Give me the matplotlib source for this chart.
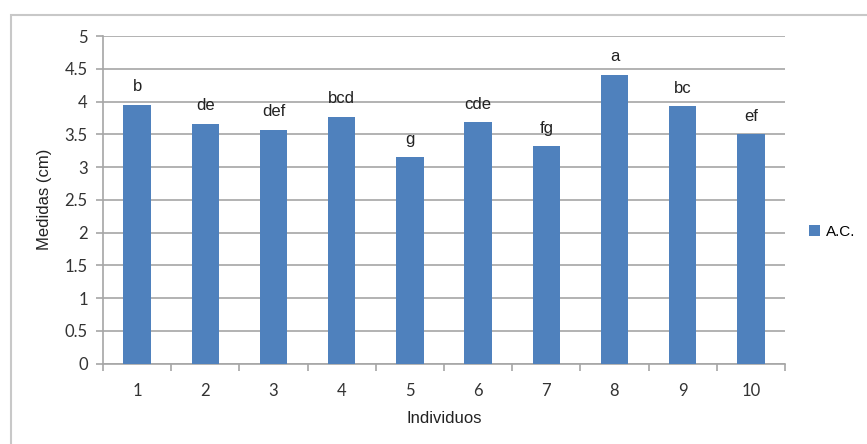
import matplotlib
matplotlib.use("Agg")
import matplotlib.pyplot as plt
from matplotlib.patches import Rectangle

# data
individuos = ["1", "2", "3", "4", "5", "6", "7", "8", "9", "10"]
medidas = [3.95, 3.66, 3.57, 3.77, 3.15, 3.68, 3.32, 4.41, 3.93, 3.50]
letras = ["b", "de", "def", "bcd", "g", "cde", "fg", "a", "bc", "ef"]
serie = "A.C."

W, H = 867, 444
fig = plt.figure(figsize=(W / 100, H / 100), dpi=100)
fig.patch.set_facecolor("white")

# outer chart frame
fig.patches.append(Rectangle((11 / W, -0.1), 1.2, 1 - 15 / H + 0.1,
                             transform=fig.transFigure, fill=False,
                             edgecolor="#c8c8c8", linewidth=1.5))

ax = fig.add_axes([103 / W, 1 - 363.5 / H, (785 - 103) / W, (363.5 - 36) / H])

x = list(range(len(individuos)))
bars = ax.bar(x, medidas, width=0.4, color="#4f81bd", label=serie, zorder=3)

for xi, v, t in zip(x, medidas, letras):
    ax.annotate(t, (xi, v), xytext=(0, 7.5), textcoords="offset points",
                ha="center", va="bottom", fontsize=12,
                family="Liberation Sans", color="#222222")

ax.set_xlim(-0.5, len(individuos) - 0.5)
ax.set_ylim(0, 5)
ax.set_yticks([i * 0.5 for i in range(11)])
ax.set_yticklabels(["0", "0.5", "1", "1.5", "2", "2.5", "3", "3.5", "4", "4.5", "5"])
ax.set_xticks(x)
ax.set_xticklabels(individuos)
ax.set_xticks([i - 0.5 for i in range(len(individuos) + 1)], minor=True)

ax.grid(axis="y", color="#a6a6a6", linewidth=1.2, zorder=0)
for s in ["top", "right"]:
    ax.spines[s].set_visible(False)
for s in ["left", "bottom"]:
    ax.spines[s].set_color("#a6a6a6")
    ax.spines[s].set_linewidth(1.2)

ax.tick_params(axis="y", length=5, color="#a6a6a6", width=1.2,
               labelsize=12, labelcolor="#333333", pad=6)
ax.tick_params(axis="x", which="major", length=0, labelsize=12,
               labelcolor="#333333", pad=14)
ax.tick_params(axis="x", which="minor", length=5, color="#a6a6a6", width=1.2)
for lab in ax.get_xticklabels() + ax.get_yticklabels():
    lab.set_family("Lato")

ax.set_xlabel("Individuos", family="Liberation Sans", fontsize=12,
              color="#222222", labelpad=9)
ax.set_ylabel("Medidas (cm)", family="Liberation Sans", fontsize=12,
              color="#222222", labelpad=9)

fig.legend(handles=[bars], labels=[serie], loc="center left",
           bbox_to_anchor=(800 / W, 1 - 232 / H), frameon=False,
           handlelength=0.7, handleheight=0.7, handletextpad=0.4,
           borderaxespad=0.2,
           prop={"family": "Liberation Sans", "size": 11})

fig.savefig("out.png", dpi=100, facecolor="white")
